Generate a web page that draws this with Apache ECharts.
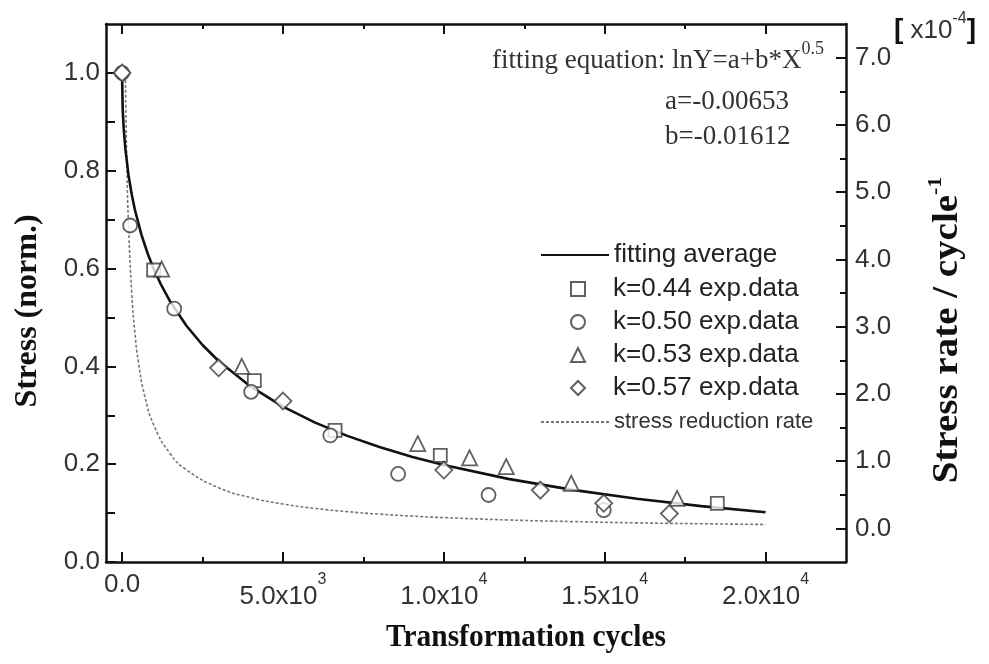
<!DOCTYPE html>
<html><head><meta charset="utf-8">
<script src="https://cdn.jsdelivr.net/npm/echarts@6/dist/echarts.min.js"></script>
<style>html,body{margin:0;padding:0;background:#fff}#c{width:989px;height:664px}</style>
</head><body><div id="c"></div>
<script>
// fitted curve lnY = a + b*X^0.5
const fitX = [0,20,50,100,200,300,400,600,800,1000,1200,1500,2000,2500,3000,4000,5000,6000,7000,8000,9000,10000,12000,14000,16000,18000,20000];
const fitY = [0.9935,0.9244,0.8865,0.8456,0.7910,0.7515,0.7197,0.6694,0.6297,0.5967,0.5684,0.5321,0.4831,0.4437,0.4109,0.3584,0.3178,0.2850,0.2579,0.2350,0.2153,0.1982,0.1700,0.1475,0.1293,0.1143,0.1017];
// stress reduction rate (right axis, x1e-4 per cycle)
const rateX = [100,150,200,300,400,500,700,1000,1500,2000,3000,4000,5000,6000,7000,8000,9000,10000,12000,14000,16000,18000,20000];
const rateY = [6.816,5.367,4.508,3.497,2.900,2.497,1.976,1.521,1.107,0.871,0.605,0.457,0.362,0.297,0.249,0.212,0.183,0.160,0.125,0.101,0.082,0.069,0.058];
// experimental data
const k044 = [[980,0.597],[4110,0.371],[6620,0.269],[9890,0.218],[18500,0.120]];
const k050 = [[0,1.0],[250,0.688],[1620,0.518],[4010,0.348],[6470,0.259],[8580,0.180],[11390,0.137],[14970,0.106]];
const k053 = [[1230,0.599],[3720,0.400],[9190,0.242],[10800,0.213],[11940,0.195],[13960,0.161],[17250,0.130]];
const k057 = [[0,1.0],[3000,0.397],[5000,0.329],[10000,0.188],[13000,0.147],[14970,0.120],[17010,0.099]];
// tick labels
const xTickValues = [0,5000,10000,15000,20000];
const xTickMain = ['0.0','5.0x10','1.0x10','1.5x10','2.0x10'];
const xTickExp = ['','3','4','4','4'];
const xMinorTicks = [2500,7500,12500,17500];
const yLeftTicks = [0,0.2,0.4,0.6,0.8,1.0];
const yLeftMinor = [0.1,0.3,0.5,0.7,0.9];
const yRightTicks = [0,1,2,3,4,5,6,7];
const yRightMinor = [0.5,1.5,2.5,3.5,4.5,5.5,6.5];
const seriesNames = ['fitting average','k=0.44 exp.data','k=0.50 exp.data','k=0.53 exp.data','k=0.57 exp.data','stress reduction rate'];

const SANS = "'Liberation Sans', Arial, Helvetica, sans-serif";
const SERIF = "'Liberation Serif', 'Times New Roman', serif";
const INK = '#111';
const LBL = '#333';

function pairs(xs, ys){ return xs.map((x,i)=>[x, ys[i]]); }

const frameLine = {show:true, onZero:false, lineStyle:{color:INK, width:2.5}};
const noLine = {show:false, onZero:false};
function tickAx(vals, len){ return {show:true, inside:true, length:len, customValues:vals, lineStyle:{color:INK, width:2}}; }

const markerStyle = {color:'#fff', borderColor:'#3a3a3a', borderWidth:1.8};
const hideSym = {color:'rgba(0,0,0,0)', borderColor:'rgba(0,0,0,0)', borderWidth:0};

const option = {
  animation:false,
  backgroundColor:'#fff',
  grid:{left:106, right:143, top:24, bottom:102, containLabel:false},
  xAxis:[
    {type:'value', position:'bottom', min:-500, max:22500, axisLine:frameLine, axisTick:tickAx(xTickValues,10), splitLine:{show:false},
     axisLabel:{show:true, customValues:xTickValues, margin:10, color:LBL, fontFamily:SANS, fontSize:26,
       formatter:function(v){ const i = xTickValues.indexOf(v); if(i<0) return ''; return xTickExp[i] ? '{m|'+xTickMain[i]+'}{s|'+xTickExp[i]+'}' : '{p|'+xTickMain[i]+'}'; },
       rich:{ m:{fontSize:26, fontFamily:SANS, color:LBL, lineHeight:38, verticalAlign:'bottom'},
              s:{fontSize:16, fontFamily:SANS, color:LBL, lineHeight:18, verticalAlign:'top'},
              p:{fontSize:26, fontFamily:SANS, color:LBL, lineHeight:26} } } },
    {type:'value', position:'bottom', min:-500, max:22500, axisLine:noLine, axisTick:tickAx(xMinorTicks,5), axisLabel:{show:false}, splitLine:{show:false}},
    {type:'value', position:'top', min:-500, max:22500, axisLine:frameLine, axisTick:tickAx(xTickValues,10), axisLabel:{show:false}, splitLine:{show:false}},
    {type:'value', position:'top', min:-500, max:22500, axisLine:noLine, axisTick:tickAx(xMinorTicks,5), axisLabel:{show:false}, splitLine:{show:false}}
  ],
  yAxis:[
    {type:'value', position:'left', min:0, max:1.1, axisLine:frameLine, axisTick:tickAx(yLeftTicks,10), splitLine:{show:false},
     axisLabel:{customValues:yLeftTicks, margin:6, color:LBL, fontFamily:SANS, fontSize:26, formatter:function(v){return v.toFixed(1);}}},
    {type:'value', position:'right', min:-0.5, max:7.5, axisLine:frameLine, axisTick:tickAx(yRightTicks,10), splitLine:{show:false},
     axisLabel:{customValues:yRightTicks, margin:9, color:LBL, fontFamily:SANS, fontSize:26, formatter:function(v){return v.toFixed(1);}}},
    {type:'value', position:'left', min:0, max:1.1, axisLine:noLine, axisTick:tickAx(yLeftMinor,9), axisLabel:{show:false}, splitLine:{show:false}},
    {type:'value', position:'right', min:-0.5, max:7.5, axisLine:noLine, axisTick:tickAx(yRightMinor,6), axisLabel:{show:false}, splitLine:{show:false}}
  ],
  legend:[
    {orient:'vertical', left:540, top:242, padding:0, itemWidth:68, itemHeight:14, selectedMode:false,
     textStyle:{fontFamily:SANS, fontSize:26, color:'#222'},
     data:[{name:seriesNames[0], itemStyle:hideSym}]},
    {orient:'vertical', left:570, top:276, padding:0, itemWidth:14, itemHeight:14, itemGap:7, selectedMode:false,
     textStyle:{fontFamily:SANS, fontSize:26, color:'#222', padding:[0,0,0,23]},
     data:[{name:seriesNames[1]},{name:seriesNames[2]},{name:seriesNames[3]},{name:seriesNames[4]}]},
    {orient:'vertical', left:540, top:411, padding:0, itemWidth:68, itemHeight:14, selectedMode:false,
     textStyle:{fontFamily:SANS, fontSize:22, color:'#333'},
     data:[{name:seriesNames[5], itemStyle:hideSym}]}
  ],
  series:[
    {name:seriesNames[0], type:'line', xAxisIndex:0, yAxisIndex:0, data:pairs(fitX,fitY), symbol:'none', smooth:false,
     lineStyle:{color:INK, width:2.6}, itemStyle:{color:INK}, z:2},
    {name:seriesNames[1], type:'scatter', xAxisIndex:0, yAxisIndex:0, data:k044, symbol:'rect', symbolSize:13, itemStyle:markerStyle, z:4},
    {name:seriesNames[2], type:'scatter', xAxisIndex:0, yAxisIndex:0, data:k050, symbol:'circle', symbolSize:14, itemStyle:markerStyle, z:4},
    {name:seriesNames[3], type:'scatter', xAxisIndex:0, yAxisIndex:0, data:k053, symbol:'triangle', symbolSize:15, itemStyle:markerStyle, z:4},
    {name:seriesNames[4], type:'scatter', xAxisIndex:0, yAxisIndex:0, data:k057, symbol:'diamond', symbolSize:17, itemStyle:markerStyle, z:4},
    {name:seriesNames[5], type:'line', xAxisIndex:0, yAxisIndex:1, data:pairs(rateX,rateY), symbol:'none', smooth:true,
     lineStyle:{color:'#777', width:1.6, type:[3,2]}, itemStyle:{color:'#777'}, z:1}
  ],
  graphic:[
    {type:'text', x:824, y:40, style:{text:'{m|fitting equation: lnY=a+b*X}{s|0.5}', align:'right', verticalAlign:'top',
      rich:{m:{fontFamily:SERIF, fontSize:27, fill:'#333', lineHeight:34, verticalAlign:'bottom'},
            s:{fontFamily:SERIF, fontSize:18, fill:'#333', lineHeight:18, verticalAlign:'top'}}}},
    {type:'text', x:665, y:102, style:{text:'a=-0.00653', fontFamily:SERIF, fontSize:27, fill:'#333', align:'left', verticalAlign:'middle'}},
    {type:'text', x:665, y:137, style:{text:'b=-0.01612', fontFamily:SERIF, fontSize:27, fill:'#333', align:'left', verticalAlign:'middle'}},
    {type:'text', x:894, y:11, style:{text:'{b|[}{m| x10}{s|-4}{b|]}', align:'left', verticalAlign:'top',
      rich:{b:{fontFamily:SANS, fontWeight:'bold', fontSize:28, fill:INK, lineHeight:33, verticalAlign:'bottom'},
            m:{fontFamily:SANS, fontSize:26, fill:'#333', lineHeight:33, verticalAlign:'bottom'},
            s:{fontFamily:SANS, fontSize:16, fill:'#333', lineHeight:18, verticalAlign:'top'}}}},
    {type:'text', x:526, y:638, scaleX:0.92, style:{text:'Transformation cycles', fontFamily:SERIF, fontWeight:'bold', fontSize:32, fill:INK, align:'center', verticalAlign:'middle'}},
    {type:'text', x:28, y:311, rotation:Math.PI/2, style:{text:'Stress (norm.)', fontFamily:SERIF, fontWeight:'bold', fontSize:32, fill:INK, align:'center', verticalAlign:'middle'}},
    {type:'text', x:946, y:330, rotation:Math.PI/2, scaleY:0.9, style:{text:'{m|Stress rate / cycle}{s|-1}', align:'center', verticalAlign:'middle',
      rich:{m:{fontFamily:SERIF, fontWeight:'bold', fontSize:39, fill:INK, lineHeight:44, verticalAlign:'bottom'},
            s:{fontFamily:SERIF, fontWeight:'bold', fontSize:22, fill:INK, lineHeight:24, verticalAlign:'top'}}}}
  ]
};
const chart = echarts.init(document.getElementById('c'), null, {renderer:'canvas'});
chart.setOption(option);
</script></body></html>
